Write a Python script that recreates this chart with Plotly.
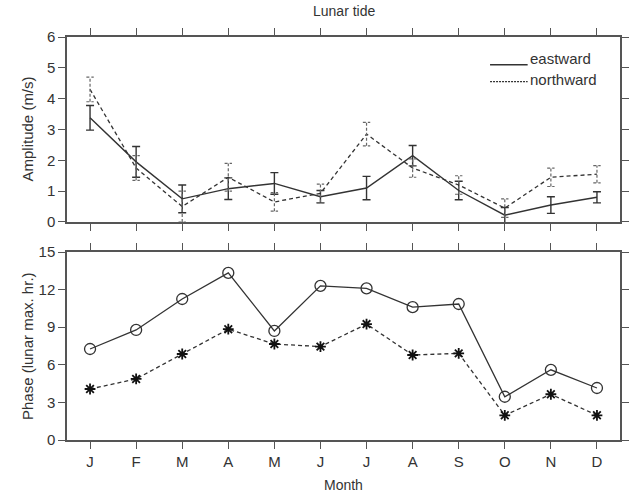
import plotly.graph_objects as go

months = ["J", "F", "M", "A", "M", "J", "J", "A", "S", "O", "N", "D"]
month_pos = list(range(1, 13))

amp_east = [3.38, 1.95, 0.75, 1.08, 1.25, 0.82, 1.1, 2.15, 1.02, 0.22, 0.55, 0.8]
amp_east_err = [0.4, 0.5, 0.45, 0.35, 0.35, 0.2, 0.38, 0.33, 0.3, 0.25, 0.27, 0.18]
amp_north = [4.3, 1.75, 0.5, 1.45, 0.65, 0.93, 2.85, 1.75, 1.2, 0.45, 1.45, 1.55]
amp_north_err = [0.4, 0.4, 0.5, 0.45, 0.3, 0.3, 0.38, 0.3, 0.3, 0.3, 0.3, 0.28]

phase_east = [7.26, 8.78, 11.25, 13.33, 8.7, 12.3, 12.1, 10.6, 10.85, 3.45, 5.6, 4.15]
phase_north = [4.07, 4.87, 6.86, 8.84, 7.66, 7.45, 9.25, 6.78, 6.91, 1.97, 3.65, 1.97]

amp_ticks = [0, 1, 2, 3, 4, 5, 6]
phase_ticks = [0, 3, 6, 9, 12, 15]

INK = "#333333"
AX = "#555555"
FONT = "Liberation Sans, Arial, sans-serif"

fig = go.Figure()

# eastward amplitude with error bars
fig.add_trace(go.Scatter(
    x=month_pos, y=amp_east, mode="lines", name="eastward",
    line=dict(color=INK, width=1.4),
    error_y=dict(type="data", array=amp_east_err, color=INK, thickness=1.4, width=4),
    xaxis="x", yaxis="y", showlegend=False))

# northward amplitude, dashed line
fig.add_trace(go.Scatter(
    x=month_pos, y=amp_north, mode="lines", name="northward",
    line=dict(color=INK, width=1.3, dash="4px,3px"),
    xaxis="x", yaxis="y", showlegend=False))

# northward dashed error bars built from data
cap = 0.08
ex, ey = [], []
for m, v, e in zip(month_pos, amp_north, amp_north_err):
    ex += [m, m, None, m - cap, m + cap, None, m - cap, m + cap, None]
    ey += [v - e, v + e, None, v - e, v - e, None, v + e, v + e, None]
fig.add_trace(go.Scatter(
    x=ex, y=ey, mode="lines", line=dict(color="#666666", width=1.2, dash="3px,2px"),
    xaxis="x", yaxis="y", showlegend=False, hoverinfo="skip"))

# phase
fig.add_trace(go.Scatter(
    x=month_pos, y=phase_east, mode="lines+markers", name="eastward",
    line=dict(color=INK, width=1.3),
    marker=dict(symbol="circle-open", size=11, color=INK, line=dict(width=1.3)),
    xaxis="x2", yaxis="y2", showlegend=False))
fig.add_trace(go.Scatter(
    x=month_pos, y=phase_north, mode="lines+markers", name="northward",
    line=dict(color=INK, width=1.3, dash="4px,3px"),
    marker=dict(symbol="asterisk-open", size=9, color="#111111", line=dict(width=1.8, color="#111111")),
    xaxis="x2", yaxis="y2", showlegend=False))

common_x = dict(range=[0.5, 12.5], tickmode="array", tickvals=month_pos,
                showline=True, linecolor=AX, linewidth=1.5, mirror="ticks",
                ticks="outside", ticklen=7, tickwidth=1.3, tickcolor=AX,
                showgrid=False, zeroline=False)
common_y = dict(showline=True, linecolor=AX, linewidth=1.5, mirror="ticks",
                ticks="outside", ticklen=7, tickwidth=1.3, tickcolor=AX,
                showgrid=False, zeroline=False,
                tickfont=dict(size=15, color=INK, family=FONT))

fig.update_layout(
    width=631, height=495,
    margin=dict(l=67, r=2, t=37, b=55),
    paper_bgcolor="white", plot_bgcolor="white",
    font=dict(family=FONT, color=INK, size=14),
    xaxis=dict(**common_x, domain=[0, 1], anchor="y", showticklabels=False),
    yaxis=dict(**common_y, domain=[0.541, 1], range=[0, 6], tickvals=amp_ticks),
    xaxis2=dict(**common_x, domain=[0, 1], anchor="y2", ticktext=months,
                tickfont=dict(size=15, color=INK, family=FONT)),
    yaxis2=dict(**common_y, domain=[0, 0.4665], range=[0, 15], tickvals=phase_ticks),
    showlegend=False,
)

annotations = [
    dict(text="Lunar tide", x=0.5, y=1, xref="paper", yref="paper",
         xanchor="center", yanchor="bottom", yshift=16, showarrow=False,
         font=dict(size=14, color=INK)),
    dict(text="Month", x=0.5, y=0, xref="paper", yref="paper",
         xanchor="center", yanchor="middle", yshift=-45, showarrow=False,
         font=dict(size=14, color=INK)),
    dict(text="Amplitude (m/s)", x=0, y=0.7705, xref="paper", yref="paper",
         xanchor="center", yanchor="middle", xshift=-40, textangle=-90,
         showarrow=False, font=dict(size=15, color=INK)),
    dict(text="Phase (lunar max. hr.)", x=0, y=0.2332, xref="paper", yref="paper",
         xanchor="center", yanchor="middle", xshift=-40, textangle=-90,
         showarrow=False, font=dict(size=15, color=INK)),
    dict(text="eastward", x=0.833, y=5.3, xref="paper", yref="y",
         xanchor="left", yanchor="middle", showarrow=False,
         font=dict(size=15, color=INK)),
    dict(text="northward", x=0.833, y=4.63, xref="paper", yref="y",
         xanchor="left", yanchor="middle", showarrow=False,
         font=dict(size=15, color=INK)),
]
fig.update_layout(annotations=annotations)

fig.add_shape(type="line", xref="paper", yref="y", x0=0.765, x1=0.833, y0=5.1, y1=5.1,
              line=dict(color=INK, width=1.5))
fig.add_shape(type="line", xref="paper", yref="y", x0=0.765, x1=0.833, y0=4.55, y1=4.55,
              line=dict(color=INK, width=1.2, dash="2px,1px"))

fig.write_html("out.html")
